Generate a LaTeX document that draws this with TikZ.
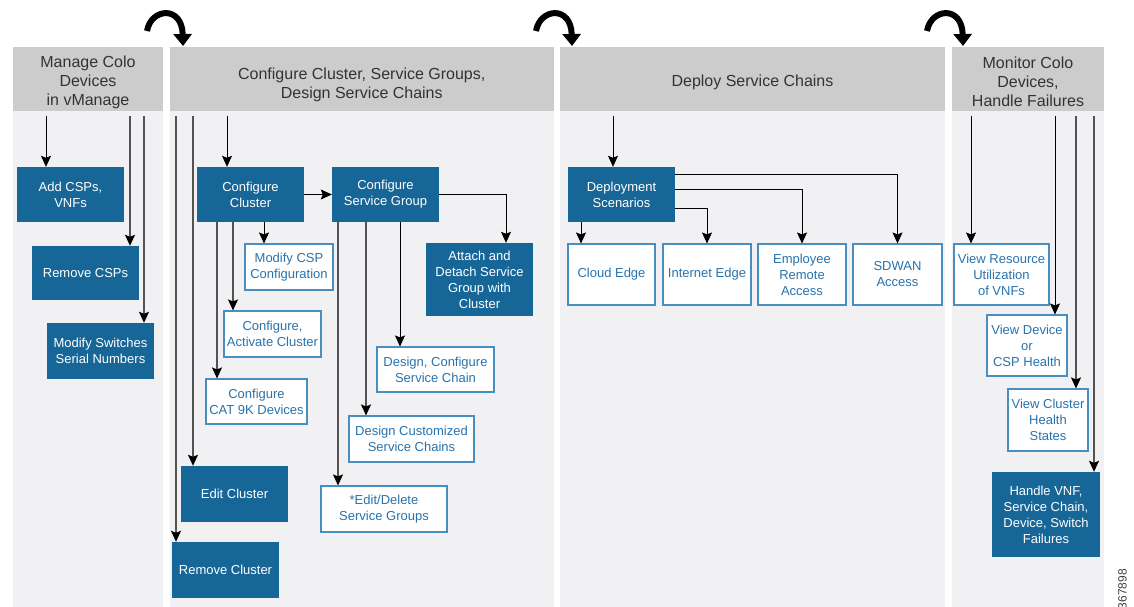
\documentclass[tikz,border=0pt]{standalone}
\usepackage{fontspec}
\setmainfont{Liberation Sans}
\usetikzlibrary{arrows.meta}
\definecolor{hdr}{RGB}{204,204,204}
\definecolor{bodybg}{RGB}{241,241,243}
\definecolor{dkblue}{RGB}{22,102,152}
\definecolor{ltblue}{RGB}{72,142,192}
\definecolor{txtblue}{RGB}{40,115,172}
\begin{document}
\begin{tikzpicture}[x=1pt,y=-1pt,
  hdrbox/.style={fill=hdr, inner sep=0pt},
  hdrtext/.style={inner sep=0pt, align=center, text=black!80, font=\fontsize{16}{19}\selectfont},
  dark/.style={fill=dkblue, text=white, inner sep=0pt, align=center, font=\fontsize{13}{16}\selectfont},
  light/.style={fill=white, draw=ltblue, line width=1.1pt, text=txtblue, inner sep=0pt, align=center, font=\fontsize{13}{16}\selectfont},
  tip/.style={-{Stealth[length=11pt,width=10pt,inset=2pt,color=black]}},
  thinarr/.style={draw=black, line width=0.7pt, tip},
  grayarr/.style={draw=gray!65!black, line width=1.3pt, tip},
  curvarr/.style={draw=black, line width=6pt, -{Triangle[width=18pt,length=12pt]}}
]
\useasboundingbox (0,0) rectangle (1134,607);
\fill[white] (0,0) rectangle (1134,607);

% column bodies
\fill[bodybg] (13,111) rectangle (163,607);
\fill[bodybg] (169.5,111) rectangle (554,607);
\fill[bodybg] (560,111) rectangle (945,607);
\fill[bodybg] (952,111) rectangle (1104,607);

% headers
\node[hdrbox, minimum width=150pt, minimum height=64pt] (h1) at (88,79) {};
\node[hdrbox, minimum width=384.5pt, minimum height=64pt] (h2) at (361.75,79) {};
\node[hdrbox, minimum width=385pt, minimum height=64pt] (h3) at (752.5,79) {};
\node[hdrbox, minimum width=152pt, minimum height=64pt] (h4) at (1028,79) {};
\node[hdrtext] (h1t) at (88,82) {Manage Colo\\Devices\\in vManage};
\node[hdrtext] (h2t) at (361.75,85) {Configure Cluster, Service Groups,\\Design Service Chains};
\node[hdrtext] (h3t) at (752.5,82) {Deploy Service Chains};
\node[hdrtext] (h4t) at (1028,82) {Monitor Colo\\Devices,\\Handle Failures};

% curved arrows
\coordinate (ca1) at (147,31); \coordinate (cb1) at (183,46);
\coordinate (ca2) at (536,31); \coordinate (cb2) at (572,46);
\coordinate (ca3) at (927,31); \coordinate (cb3) at (963,46);
\draw[curvarr] (ca1) .. controls (151,8) and (182,5) .. (cb1);
\draw[curvarr] (ca2) .. controls (540,8) and (571,5) .. (cb2);
\draw[curvarr] (ca3) .. controls (931,8) and (962,5) .. (cb3);

% column 1 boxes
\node[dark, minimum width=107pt, minimum height=55pt] (add) at (70.5,194.5) {Add CSPs,\\VNFs};
\node[dark, minimum width=107pt, minimum height=54pt] (rmcsp) at (85.5,273) {Remove CSPs};
\node[dark, minimum width=107pt, minimum height=56pt] (modsw) at (100.5,351) {Modify Switches\\Serial Numbers};

% column 2 boxes
\node[dark, minimum width=107pt, minimum height=55pt] (cc) at (250.5,194.5) {Configure\\Cluster};
\node[dark, minimum width=107pt, minimum height=55pt] (csg) at (385.5,194.5) {Configure\\Service Group};
\node[dark, minimum width=107pt, minimum height=73pt] (attach) at (479.5,279.5) {Attach and\\Detach Service\\Group with\\Cluster};
\node[light, minimum width=88pt, minimum height=46pt] (modcsp) at (289,267) {Modify CSP\\Configuration};
\node[light, minimum width=97pt, minimum height=46pt] (cac) at (272.5,334) {Configure,\\Activate Cluster};
\node[light, minimum width=101pt, minimum height=45pt] (cat) at (256.5,401.5) {Configure\\CAT 9K Devices};
\node[dark, minimum width=107pt, minimum height=56pt] (edit) at (234.5,494) {Edit Cluster};
\node[dark, minimum width=107pt, minimum height=56pt] (rmcl) at (225.5,570) {Remove Cluster};
\node[light, minimum width=117pt, minimum height=45pt] (dcsc) at (435.5,369.5) {Design, Configure\\Service Chain};
\node[light, minimum width=125pt, minimum height=46pt] (dcust) at (411.5,439) {Design Customized\\Service Chains};
\node[light, minimum width=126pt, minimum height=46pt] (edsg) at (384,509) {*Edit/Delete\\Service Groups};

% column 3 boxes
\node[dark, minimum width=107pt, minimum height=55pt] (ds) at (621.5,194.5) {Deployment\\Scenarios};
\node[light, minimum width=87pt, minimum height=61pt] (cloud) at (611.5,274.5) {Cloud Edge};
\node[light, minimum width=88pt, minimum height=61pt] (inet) at (707,274.5) {Internet Edge};
\node[light, minimum width=88pt, minimum height=61pt] (emp) at (802,274.5) {Employee\\Remote\\Access};
\node[light, minimum width=89pt, minimum height=61pt] (sdwan) at (897.5,274.5) {SDWAN\\Access};

% column 4 boxes
\node[light, minimum width=95pt, minimum height=61pt] (vru) at (1001.5,274.5) {View Resource\\Utilization\\of VNFs};
\node[light, minimum width=80pt, minimum height=61pt] (vdev) at (1027,345.5) {View Device\\or\\CSP Health};
\node[light, minimum width=80pt, minimum height=62pt] (vcl) at (1048,420) {View Cluster\\Health\\States};
\node[dark, minimum width=108pt, minimum height=85pt] (hnd) at (1046,514.5) {Handle VNF,\\Service Chain,\\Device, Switch\\Failures};

% helper coordinates (line start points and x positions)
\coordinate (s46) at (46,116);
\coordinate (s130) at (130,116);
\coordinate (s144) at (144,116);
\coordinate (s176) at (176,116);
\coordinate (s193) at (193,116);
\coordinate (s227) at (227,116);
\coordinate (s613) at (613,116);
\coordinate (s971) at (971,116);
\coordinate (s1055) at (1055,116);
\coordinate (s1076) at (1076,116);
\coordinate (s1094) at (1094,116);
\coordinate (x217) at (217,0);
\coordinate (x233) at (233,0);
\coordinate (x264) at (264,0);
\coordinate (x338) at (338,0);
\coordinate (x366) at (366,0);
\coordinate (x400) at (400,0);
\coordinate (x506) at (506,0);
\coordinate (x581) at (581,0);
\coordinate (y174) at (0,174);
\coordinate (y189) at (0,189);
\coordinate (y208) at (0,208);

% column 1 connectors
\draw[thinarr] (s46) -- (s46 |- add.north);
\draw[grayarr] (s130) -- (s130 |- rmcsp.north);
\draw[grayarr] (s144) -- (s144 |- modsw.north);

% column 2 connectors
\draw[grayarr] (s176) -- (s176 |- rmcl.north);
\draw[grayarr] (s193) -- (s193 |- edit.north);
\draw[thinarr] (s227) -- (s227 |- cc.north);
\draw[thinarr] (cc.east) -- (csg.west);
\draw[thinarr] (csg.east) -| (attach.north -| x506);
\draw[grayarr] (cc.south -| x217) -- (cat.north -| x217);
\draw[grayarr] (cc.south -| x233) -- (cac.north -| x233);
\draw[thinarr] (cc.south -| x264) -- (modcsp.north -| x264);
\draw[grayarr] (csg.south -| x338) -- (edsg.north -| x338);
\draw[grayarr] (csg.south -| x366) -- (dcust.north -| x366);
\draw[thinarr] (csg.south -| x400) -- (dcsc.north -| x400);

% column 3 connectors
\draw[thinarr] (s613) -- (s613 |- ds.north);
\draw[thinarr] (ds.south -| x581) -- (cloud.north -| x581);
\draw[thinarr] (ds.east |- y174) -| (sdwan.north);
\draw[thinarr] (ds.east |- y189) -| (emp.north);
\draw[thinarr] (ds.east |- y208) -| (inet.north);

% column 4 connectors
\draw[thinarr] (s971) -- (s971 |- vru.north);
\draw[thinarr] (s1055) -- (s1055 |- vdev.north);
\draw[grayarr] (s1076) -- (s1076 |- vcl.north);
\draw[grayarr] (s1094) -- (s1094 |- hnd.north);

% figure number
\node[rotate=90, text=black!75, font=\fontsize{12}{12}\selectfont] (fignum) at (1122.5,589) {367898};
\end{tikzpicture}
\end{document}
